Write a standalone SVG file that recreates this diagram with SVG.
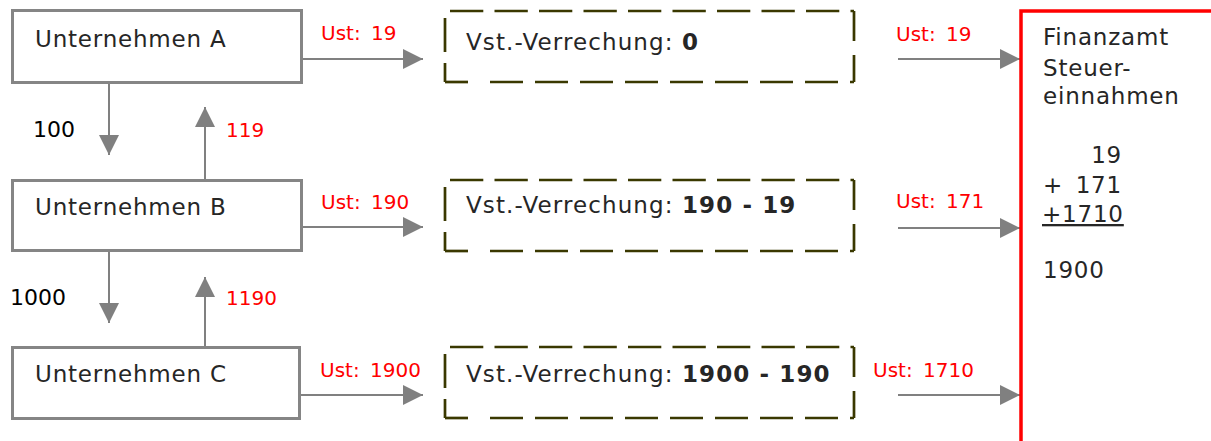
<svg xmlns="http://www.w3.org/2000/svg" width="1211" height="441" viewBox="0 0 1211 441">
<style>
.box{fill:#fff;stroke:#858585;stroke-width:3}
.conn{stroke:#808080;stroke-width:2;fill:none;marker-end:url(#ah)}
.t{font-family:"DejaVu Sans",Verdana,sans-serif;font-size:23px;fill:#262626;letter-spacing:0.8px}
.v{letter-spacing:1.1px}
.r{font-family:"DejaVu Sans",Verdana,sans-serif;font-size:20px;fill:#ff0000;word-spacing:4px}
.k{font-family:"DejaVu Sans",Verdana,sans-serif;font-size:22px;fill:#000}
.b{font-weight:bold}
.d{fill:none;stroke:#3a3800;stroke-width:2.7}
</style>
<defs>
<marker id="ah" markerUnits="userSpaceOnUse" markerWidth="20" markerHeight="20" viewBox="0 0 20 20" refX="20" refY="10" orient="auto">
<path d="M0,0 L20,10 L0,20 z" fill="#808080"/>
</marker>
<g id="dbox">
<path class="d" d="M0,0 H409" stroke-dasharray="33.3 11.2" stroke-dashoffset="39.5"/>
<path class="d" d="M409,0 V30 M409,44 V71"/>
<path class="d" d="M0,71 H23"/>
<path class="d" d="M45,71 H409" stroke-dasharray="33 12"/>
<path class="d" d="M0,71 V52 M0,41 V7"/>
</g>
</defs>

<g id="connectors">
<line class="conn" x1="302" y1="59" x2="423" y2="59"/>
<line class="conn" x1="302" y1="227" x2="423" y2="227"/>
<line class="conn" x1="300" y1="395" x2="423" y2="395"/>
<line class="conn" x1="109" y1="84" x2="109" y2="155"/>
<line class="conn" x1="205" y1="179" x2="205" y2="107"/>
<line class="conn" x1="109" y1="252" x2="109" y2="323"/>
<line class="conn" x1="205" y1="346" x2="205" y2="277"/>
<line class="conn" x1="898" y1="59" x2="1020" y2="59"/>
<line class="conn" x1="898" y1="228" x2="1020" y2="228"/>
<line class="conn" x1="898" y1="395" x2="1020" y2="395"/>
<text class="r" x="321" y="40">Ust: 19</text>
<text class="r" x="321" y="209">Ust: 190</text>
<text class="r" x="320" y="377">Ust: 1900</text>
<text class="k" x="33" y="137">100</text>
<text class="r" x="226" y="137">119</text>
<text class="k" x="10" y="305">1000</text>
<text class="r" x="226" y="305">1190</text>
<text class="r" x="896" y="41">Ust: 19</text>
<text class="r" x="896" y="208">Ust: 171</text>
<text class="r" x="873" y="377">Ust: 1710</text>
</g>

<g id="unternehmen-a">
<rect class="box" x="12.5" y="10.5" width="289" height="72"/>
<text class="t" x="35" y="47">Unternehmen A</text>
</g>
<g id="unternehmen-b">
<rect class="box" x="12.5" y="180.5" width="289" height="70"/>
<text class="t" x="35" y="215">Unternehmen B</text>
</g>
<g id="unternehmen-c">
<rect class="box" x="12.5" y="347.5" width="287" height="71"/>
<text class="t" x="35" y="382">Unternehmen C</text>
</g>

<g id="vst-a">
<use href="#dbox" x="445" y="11"/>
<text class="t v" x="466" y="50">Vst.-Verrechung: <tspan class="b">0</tspan></text>
</g>
<g id="vst-b">
<use href="#dbox" x="445" y="180"/>
<text class="t v" x="466" y="213">Vst.-Verrechung: <tspan class="b">190 - 19</tspan></text>
</g>
<g id="vst-c">
<use href="#dbox" x="445" y="347"/>
<text class="t v" x="466" y="382">Vst.-Verrechung: <tspan class="b">1900 - 190</tspan></text>
</g>

<g id="finanzamt">
<path d="M1021,441 V11 H1211" fill="none" stroke="#ff0000" stroke-width="3.5"/>
<text class="t" x="1043" y="45">Finanzamt</text>
<text class="t" x="1043" y="76">Steuer-</text>
<text class="t" x="1043" y="104">einnahmen</text>
<text class="t" x="1122" y="163" text-anchor="end">19</text>
<text class="t" x="1043" y="193">+</text>
<text class="t" x="1122" y="193" text-anchor="end">171</text>
<text class="t" x="1042" y="222" text-decoration="underline">+1710</text>
<text class="t" x="1043" y="278">1900</text>
</g>
</svg>
